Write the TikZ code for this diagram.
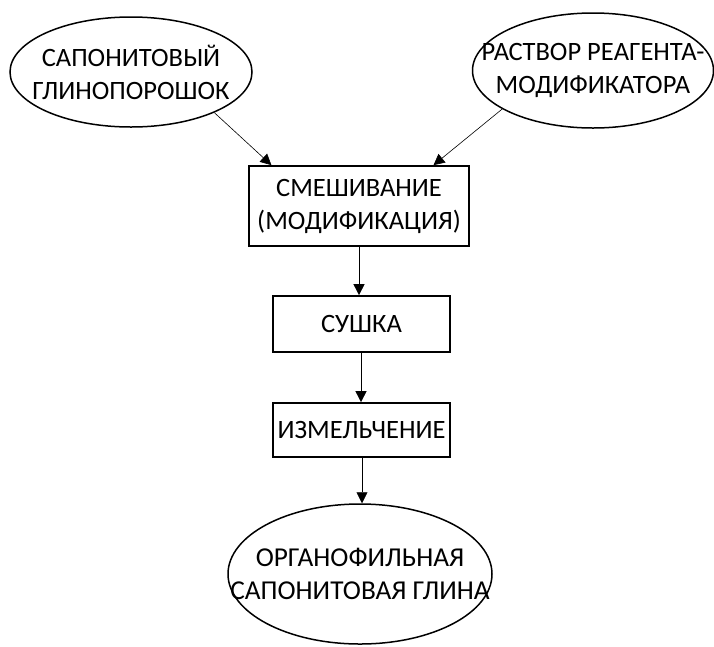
\documentclass[tikz,border=0pt]{standalone}
\usepackage{fontspec}
\setmainfont{Carlito}
\usetikzlibrary{arrows.meta,shapes.geometric,calc}
\begin{document}
\begin{tikzpicture}[x=1pt,y=-1pt,
  every node/.style={font=\fontsize{26.5}{33}\selectfont, align=center, inner sep=0pt},
  oval/.style={ellipse, draw, line width=1.5pt},
  stepbox/.style={rectangle, draw, line width=1.7pt},
  arr/.style={line width=0.6pt, -{Triangle[length=11pt,width=11pt]}}]
\useasboundingbox (0,0) rectangle (714,646);
\node[oval, minimum width=242pt, minimum height=110pt,
  label={[align=center]center:САПОНИТОВЫЙ\\ГЛИНОПОРОШОК}] (e1) at (131,72) {};
\node[oval, minimum width=241pt, minimum height=115pt,
  label={[align=center]center:РАСТВОР РЕАГЕНТА-\\МОДИФИКАТОРА}] (e2) at (593,70.5) {};
\node[stepbox, minimum width=220pt, minimum height=80pt] (b1) at (359,206) {СМЕШИВАНИЕ\\(МОДИФИКАЦИЯ)};
\node[stepbox, minimum width=177pt, minimum height=56pt] (b2) at (361.5,324) {СУШКА};
\node[stepbox, minimum width=177pt, minimum height=54pt] (b3) at (361.5,430) {ИЗМЕЛЬЧЕНИЕ};
\node[oval, minimum width=264pt, minimum height=140pt,
  label={[align=center, font=\fontsize{27.3}{33}\selectfont]center:ОРГАНОФИЛЬНАЯ\\САПОНИТОВАЯ ГЛИНА}] (e4) at (360,574) {};
\coordinate (t1) at ($(b1.north west)!0.105!(b1.north east)$);
\coordinate (t2) at ($(b1.north west)!0.836!(b1.north east)$);
\draw[arr] (e1.-26) -- (t1);
\draw[arr] (e2.-157) -- (t2);
\draw[arr] (b1.south -| 359,0) -- (b2.north -| 359,0);
\draw[arr] (b2.south -| 361,0) -- (b3.north -| 361,0);
\draw[arr] (b3.south -| 362,0) -- (e4.north -| 362,0);
\end{tikzpicture}
\end{document}
